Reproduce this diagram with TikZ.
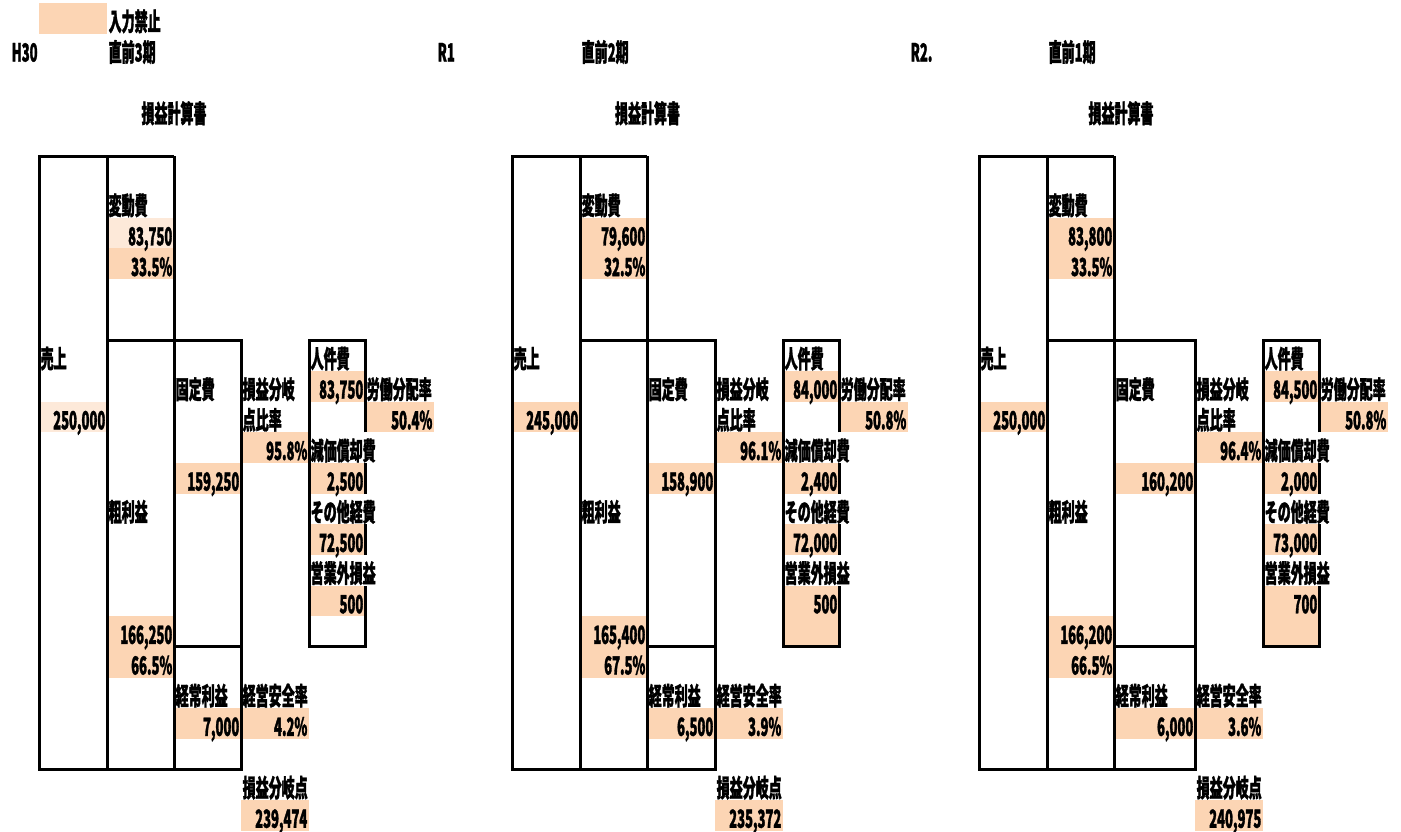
\documentclass[tikz,border=0pt]{standalone}
\usepackage{fontspec}
\setmainfont{Noto Sans CJK JP}[FakeStretch=0.52,BoldFeatures={FakeBold=1.2}]
\usepackage{tikz}
\definecolor{peach}{HTML}{FCD5B4}
\definecolor{peachlt}{HTML}{FDE9D9}

\begin{document}
\begin{tikzpicture}[x=1pt,y=-30.65pt,
  rule/.style={line width=3pt},
  lbl/.style={anchor=base west,inner sep=0pt,xshift=1.5pt,yshift=3pt},
  num/.style={anchor=base east,inner sep=0pt,xshift=-1.5pt,yshift=3pt},
  ttl/.style={anchor=base,inner sep=0pt,yshift=3pt},
  every node/.style={font=\bfseries\fontsize{25}{25}\selectfont}]

  \path[use as bounding box] (0pt,0pt) rectangle (1401pt,-832pt);

  \begin{scope}[yshift=-3.25pt]
  % legend
  \fill[peach] (39,0) rectangle (107,1);
  \node[lbl] (legend) at (107,1) {入力禁止};

  \foreach \px/\fw/\yx/\yr/\ki/\sales/\csales/\var/\cvar/\varp/\fix/\bepr/\lab/\labp/\dep/\oth/\nonop/\nr/\gross/\grossp/\ordi/\safe/\bep in {
    39/67/-29/H30/直前3期/{250,000}/peachlt/{83,750}/peachlt/33.5\%/{159,250}/95.8\%/{83,750}/50.4\%/{2,500}/{72,500}/500/1/{166,250}/66.5\%/{7,000}/4.2\%/{239,474},
    512/68/-76/R1/直前2期/{245,000}/peach/{79,600}/peach/32.5\%/{158,900}/96.1\%/{84,000}/50.8\%/{2,400}/{72,000}/500/2/{165,400}/67.5\%/{6,500}/3.9\%/{235,372},
    979/81/-70/R2./直前1期/{250,000}/peach/{83,800}/peach/33.5\%/{160,200}/96.4\%/{84,500}/50.8\%/{2,000}/{73,000}/700/2/{166,200}/66.5\%/{6,000}/3.6\%/{240,975}}
  {
  \begin{scope}[xshift=\px]
    \pgfmathsetmacro\colD{135+\fw}
    \pgfmathsetmacro\colE{\colD+68}
    \pgfmathsetmacro\colF{\colE+56}
    \pgfmathsetmacro\colG{\colF+69}

    % input cells
    \fill[\cvar] (68,7) rectangle (135,8);
    \fill[peach] (68,8) rectangle (135,9);
    \fill[\csales] (0,13) rectangle (68,14);
    \fill[peach] (135,15) rectangle (\colD,16);
    \fill[peach] (\colD,14) rectangle (\colE,15);
    \fill[peach] (\colE,12) rectangle (\colF,13);
    \fill[peach] (\colF,13) rectangle (\colG,14);
    \fill[peach] (\colE,15) rectangle (\colF,16);
    \fill[peach] (\colE,17) rectangle (\colF,18);
    \fill[peach] (\colE,19) rectangle ({\colF},{19+\nr});
    \fill[peach] (68,20) rectangle (135,22);
    \fill[peach] (135,23) rectangle (\colD,24);
    \fill[peach] (\colD,23) rectangle (\colE,24);
    \fill[peach] (\colD,26) rectangle (\colE,27);

    % frames
    \draw[rule] (135,5) -- (0,5) -- (0,25) -- (\colD,25) -- (\colD,11) -- (68,11);
    \draw[rule] (68,5) -- (68,25);
    \draw[rule] (135,5) -- (135,25);
    \draw[rule] (135,21) -- (\colD,21);
    \draw[rule] (\colF,14) -- (\colF,11) -- (\colE,11) -- (\colE,21) -- (\colF,21) -- (\colF,19);
    \draw[rule] (\colF,15) -- (\colF,16) (\colF,17) -- (\colF,18);

    % headings
    \node[lbl] (year\px) at (\yx,2) {\yr};
    \node[lbl] (term\px) at (68,2) {\ki};
    \node[ttl] (title\px) at ({(68+\colD)/2},4) {損益計算書};

    % labels
    \node[lbl] (varlbl\px) at (68,7) {変動費};
    \node[lbl] (saleslbl\px) at (0,12) {売上};
    \node[lbl] (fixlbl\px) at (135,13) {固定費};
    \node[lbl] (beprlbl\px) at (\colD,13) {損益分岐};
    \node[lbl] (beprlblb\px) at (\colD,14) {点比率};
    \node[lbl] (lablbl\px) at (\colE,12) {人件費};
    \node[lbl] (labplbl\px) at (\colF,13) {労働分配率};
    \node[lbl] (deplbl\px) at (\colE,15) {減価償却費};
    \node[lbl] (othlbl\px) at (\colE,17) {その他経費};
    \node[lbl] (nonoplbl\px) at (\colE,19) {営業外損益};
    \node[lbl] (grosslbl\px) at (68,17) {粗利益};
    \node[lbl] (ordilbl\px) at (135,23) {経常利益};
    \node[lbl] (safelbl\px) at (\colD,23) {経営安全率};
    \node[lbl] (beplbl\px) at (\colD,26) {損益分岐点};

    % values
    \node[num] (var\px) at (135,8) {\var};
    \node[num] (varp\px) at (135,9) {\varp};
    \node[num] (sales\px) at (68,14) {\sales};
    \node[num] (fix\px) at (\colD,16) {\fix};
    \node[num] (bepr\px) at (\colE,15) {\bepr};
    \node[num] (lab\px) at (\colF,13) {\lab};
    \node[num] (labp\px) at (\colG,14) {\labp};
    \node[num] (dep\px) at (\colF,16) {\dep};
    \node[num] (oth\px) at (\colF,18) {\oth};
    \node[num] (nonop\px) at (\colF,20) {\nonop};
    \node[num] (gross\px) at (135,21) {\gross};
    \node[num] (grossp\px) at (135,22) {\grossp};
    \node[num] (ordi\px) at (\colD,24) {\ordi};
    \node[num] (safe\px) at (\colE,24) {\safe};
    \node[num] (bep\px) at (\colE,27) {\bep};
  \end{scope}
  }
  \end{scope}
\end{tikzpicture}
\end{document}
